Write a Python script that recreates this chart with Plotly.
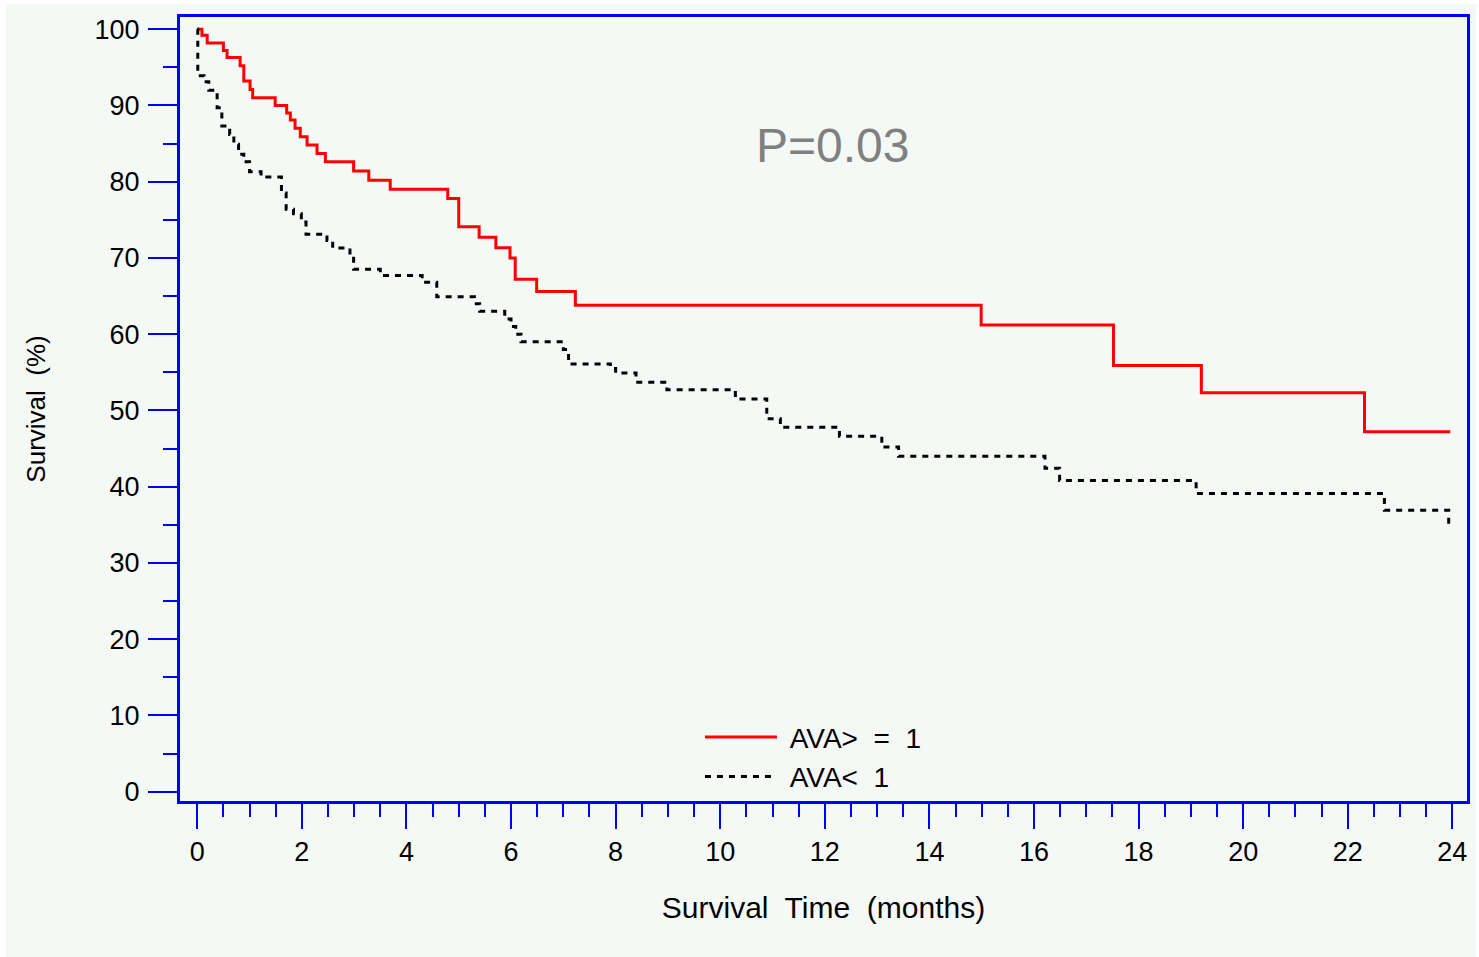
import plotly.graph_objects as go

# Kaplan-Meier style step data (months, survival %)
red_time = [0, 0.09, 0.19, 0.50, 0.57, 0.82, 0.89, 1.01, 1.06, 1.49, 1.71, 1.78, 1.87,
            1.97, 2.10, 2.29, 2.45, 2.99, 3.28, 3.69, 4.79, 5.00, 5.39, 5.71, 5.98,
            6.08, 6.49, 7.23, 14.99, 17.52, 19.20, 22.32, 23.96]
red_surv = [100, 99.2, 98.2, 97.2, 96.3, 95.2, 93.2, 92.1, 91.0, 90.0, 89.0, 88.1, 87.0,
            85.9, 84.8, 83.7, 82.6, 81.4, 80.2, 79.0, 77.8, 74.1, 72.7, 71.35, 70.0,
            67.2, 65.6, 63.8, 61.2, 55.9, 52.3, 47.2, 47.2]

black_time = [0, 0.01, 0.13, 0.22, 0.38, 0.47, 0.62, 0.70, 0.79, 0.89, 1.00, 1.22, 1.61,
              1.70, 1.84, 1.99, 2.08, 2.48, 2.59, 2.92, 2.99, 3.50, 4.30, 4.58, 5.30,
              5.40, 5.88, 6.00, 6.09, 6.19, 7.00, 7.10, 7.90, 8.00, 8.39, 8.98, 10.29,
              10.89, 11.15, 12.28, 13.09, 13.41, 16.21, 16.49, 19.10, 22.70, 23.93]
black_surv = [100, 93.9, 93.1, 92.0, 89.7, 87.3, 86.2, 84.9, 83.6, 82.6, 81.3, 80.6, 78.5,
              76.4, 75.8, 74.7, 73.1, 72.3, 71.3, 70.4, 68.5, 67.7, 66.8, 64.9, 64.0,
              63.0, 62.0, 61.0, 60.0, 59.0, 58.0, 56.1, 55.5, 54.9, 53.7, 52.7, 51.5,
              48.9, 47.8, 46.6, 45.2, 44.0, 42.4, 40.8, 39.1, 36.9, 34.6]

series_names = ["&nbsp;AVA&gt;&nbsp; =&nbsp; 1", "&nbsp;AVA&lt;&nbsp; 1"]
x_ticks = list(range(0, 25, 2))
y_ticks = list(range(0, 101, 10))
p_text = "P=0.03"
x_title = "Survival&nbsp; Time&nbsp; (months)"
y_title = "Survival&nbsp; (%)"

BG = "#F5F9F6"
FONT = "Liberation Sans, Arial, sans-serif"

fig = go.Figure()
fig.add_trace(go.Scatter(x=red_time, y=red_surv, mode="lines", name=series_names[0],
                         line=dict(color="#FF0000", width=3, shape="hv")))
fig.add_trace(go.Scatter(x=black_time, y=black_surv, mode="lines", name=series_names[1],
                         line=dict(color="#000000", width=3, shape="hv", dash="6px,6px")))

axis_common = dict(
    showgrid=False, zeroline=False, showline=True, linecolor="#0000FF", linewidth=3,
    mirror=True, ticks="outside", tickcolor="#0000FF", tickwidth=1.8,
    tickfont=dict(family=FONT, size=27, color="black"),
)

fig.update_xaxes(
    **axis_common, range=[-0.33, 24.28], tickvals=x_ticks, ticklen=25,
    minor=dict(dtick=0.5, ticklen=13, ticks="outside", tickcolor="#0000FF", tickwidth=1.8),
    title=dict(text=x_title, font=dict(family=FONT, size=30, color="black"), standoff=31),
    ticklabelstandoff=0,
)
fig.update_yaxes(
    **axis_common, range=[-1.23, 101.6], tickvals=y_ticks, ticklen=29,
    minor=dict(dtick=5, ticklen=14, ticks="outside", tickcolor="#0000FF", tickwidth=1.8),
    title=dict(text=y_title, font=dict(family=FONT, size=26, color="black"), standoff=42),
    ticklabelstandoff=3,
)

fig.add_annotation(x=12.15, y=84.8, xref="x", yref="y", text=p_text, showarrow=False,
                   font=dict(family=FONT, size=48, color="#808080"))

fig.update_layout(
    width=1479, height=957,
    margin=dict(l=180, r=12, t=17, b=156, autoexpand=False),
    paper_bgcolor="white", plot_bgcolor=BG,
    showlegend=True,
    legend=dict(x=0.404, y=0.113, xanchor="left", yanchor="top",
                bgcolor="rgba(0,0,0,0)", font=dict(family=FONT, size=28, color="black"),
                itemwidth=72, tracegroupgap=0),
    shapes=[dict(type="rect", xref="paper", yref="paper", layer="below",
                 x0=(6 - 180) / 1287, x1=(1476 - 180) / 1287,
                 y0=(801 - 957) / 784, y1=(801 - 4) / 784,
                 fillcolor=BG, line=dict(width=0))],
)

fig.write_html("out.html")
